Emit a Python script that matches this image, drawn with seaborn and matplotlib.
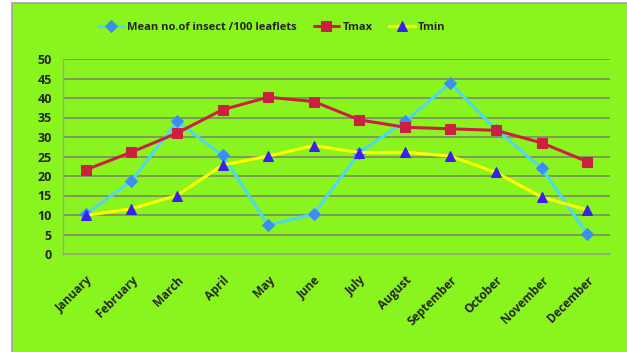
import pandas as pd
import seaborn as sns

import matplotlib
matplotlib.use('Agg')
import matplotlib.pyplot as plt
from matplotlib.patches import Rectangle

months = ['January', 'February', 'March', 'April', 'May', 'June', 'July',
          'August', 'September', 'October', 'November', 'December']
insects = [10.2, 18.7, 34.0, 25.3, 7.4, 10.2, 26.0, 34.0, 43.8, 31.9, 22.0, 5.1]
tmax = [21.6, 26.1, 31.0, 37.0, 40.2, 39.1, 34.4, 32.5, 32.1, 31.7, 28.5, 23.7]
tmin = [9.9, 11.6, 15.0, 22.8, 25.1, 27.8, 26.0, 26.1, 25.1, 20.9, 14.6, 11.3]

df = pd.DataFrame({'month': months, 'insects': insects, 'tmax': tmax, 'tmin': tmin})
df['x'] = range(len(df))

sns.set_style('white')
plt.rcParams['font.family'] = ['Open Sans', 'DejaVu Sans']

green = '#8af41e'
gridc = '#7c9a5c'
fig = plt.figure(figsize=(6.27, 3.52), dpi=100, facecolor='white')
# chart background panel with thin grey border
fig.patches.append(Rectangle((12 / 627, -0.01), 1.0, 1 - 3 / 352 + 0.01,
                             transform=fig.transFigure, facecolor=green,
                             edgecolor='#a0a0a0', linewidth=1.2, zorder=-10))

ax = fig.add_axes([63 / 627, 1 - 254 / 352, (610 - 63) / 627, 195 / 352])
ax.set_facecolor(green)

sns.lineplot(data=df, x='x', y='insects', ax=ax, color='#4fd8ee', linewidth=2.2,
             marker='D', markersize=6.5, markerfacecolor='#3c8ef2',
             markeredgecolor='#3c8ef2', label='Mean no.of insect /100 leaflets')
sns.lineplot(data=df, x='x', y='tmax', ax=ax, color='#cc2040', linewidth=2.2,
             marker='s', markersize=6.5, markerfacecolor='#cc2040',
             markeredgecolor='#cc2040', label='Tmax')
sns.lineplot(data=df, x='x', y='tmin', ax=ax, color='#ffff00', linewidth=2.2,
             marker='^', markersize=7.5, markerfacecolor='#3a1ef2',
             markeredgecolor='#3a1ef2', label='Tmin')

ax.set_xlim(-0.5, 11.5)
ax.set_ylim(0, 50)
ax.set_yticks(range(0, 51, 5))
ax.set_xticks(range(12))
ax.set_xticks([i - 0.5 for i in range(13)], minor=True)
ax.set_xticklabels(months, rotation=45, ha='right', rotation_mode='anchor',
                   fontsize=8.5, fontweight='bold')
for lab in ax.get_yticklabels():
    lab.set_fontsize(9)
    lab.set_fontweight('bold')
ax.tick_params(axis='x', which='major', length=0, pad=14)
ax.tick_params(axis='x', which='minor', length=5, color='#9aa88a', width=1.0)
ax.tick_params(axis='y', length=5, color='#9aa88a', width=1.0, pad=3)
ax.set_xlabel('')
ax.set_ylabel('')

ax.grid(axis='y', color=gridc, linewidth=1.4)
ax.set_axisbelow(True)
for side in ['top', 'right']:
    ax.spines[side].set_visible(False)
ax.spines['left'].set_color('#9aa88a')
ax.spines['bottom'].set_color('#9aa88a')
ax.spines['left'].set_linewidth(1.0)
ax.spines['bottom'].set_linewidth(1.2)

leg = ax.legend(loc='center', bbox_to_anchor=(272 / 627, 1 - 27 / 352),
                bbox_transform=fig.transFigure, ncol=3, frameon=False,
                prop={'size': 8, 'weight': 'bold'}, handlelength=2.3,
                columnspacing=1.5, handletextpad=0.3)

plt.savefig('out.png', dpi=100, facecolor='white')
plt.close()
